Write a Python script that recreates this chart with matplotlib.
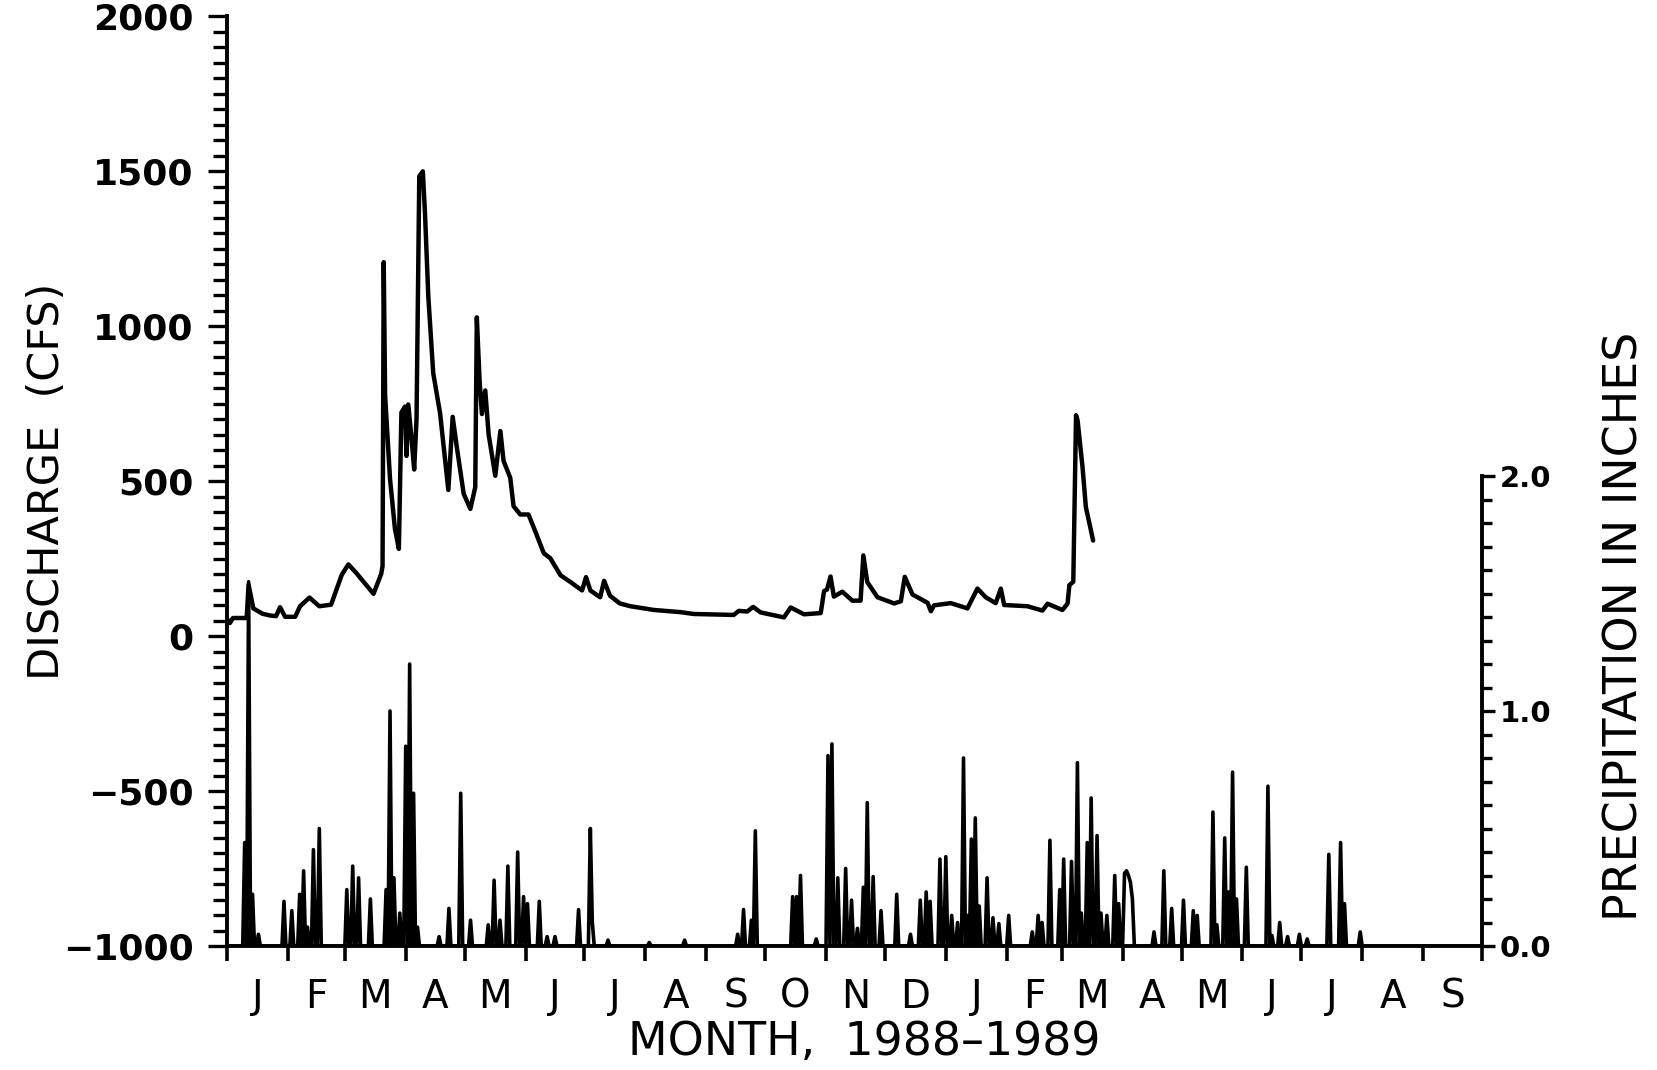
import numpy as np
import pandas as pd
import matplotlib
matplotlib.use("Agg")
import matplotlib.pyplot as plt
from matplotlib.ticker import (MultipleLocator, FixedLocator, FormatStrFormatter,
                               NullFormatter, FuncFormatter, FixedFormatter)

plt.rcParams['font.family'] = ['DejaVu Sans']

# ---------------- data ----------------
record_start = pd.Timestamp('1988-01-01')
month_starts = pd.date_range('1988-01-01', '1989-10-01', freq='MS')
month_labels = ['J', 'F', 'M', 'A', 'M', 'J', 'J', 'A', 'S', 'O', 'N', 'D',
                'J', 'F', 'M', 'A', 'M', 'J', 'J', 'A', 'S']

# discharge (cfs), day of record counted from 1 Jan 1988
discharge_day = [0, 1.5, 3, 10, 11, 13.4, 18, 22, 25, 27, 29.6, 34.7, 37.2, 42, 47, 53,
                 58.4, 61.8, 66, 74.6, 78.5, 79.2, 79.8, 80.5, 83, 85.5, 87.5, 88.8,
                 90.6, 91.4, 92.3, 94, 95.3, 96.5, 97.9, 99.7, 100.8, 102.5, 105, 108.5,
                 112.7, 114.9, 117, 120.5, 123.9, 126.4, 127.2, 128.6, 129.8, 131.5,
                 133.2, 136.6, 139.2, 140.8, 144.2, 145.9, 149.3, 153.5, 157, 161.3,
                 164.6, 169.8, 174.9, 180.8, 182.8, 185, 190, 192, 195, 200, 205.4,
                 217.3, 230.9, 237.7, 258, 260.6, 264.9, 267.9, 271.7, 283.6, 287,
                 293.8, 302.3, 304, 305.5, 307.3, 309, 313.3, 318.4, 322.6, 324, 326,
                 331.2, 339.7, 343.1, 345.1, 349, 356.7, 358.4, 360, 368.5, 377, 382.1,
                 386.3, 391.4, 394, 395.7, 407.6, 415.2, 417.8, 425.4, 428, 428.9,
                 430.9, 432.3, 433.1, 435.6, 437.3, 441]
discharge_cfs = [55, 42, 58, 58, 165, 89, 72, 66, 64, 93, 62, 62, 96, 124, 96, 101,
                 197, 231, 202, 136, 200, 225, 1206, 776, 507, 346, 281, 721,
                 740, 581, 747, 634, 537, 700, 1483, 1499, 1365, 1095, 848, 718,
                 471, 707, 610, 459, 410, 480, 1028, 824, 716, 792,
                 651, 517, 661, 565, 511, 419, 392, 392, 337, 267,
                 251, 196, 174, 147, 190, 147, 125, 178, 130, 105, 96,
                 84, 77, 71, 68, 81, 79, 94, 76, 60, 92,
                 70, 74, 145, 150, 192, 127, 143, 114, 114, 260, 174,
                 125, 105, 112, 191, 134, 107, 80, 99, 106, 89, 153,
                 125, 106, 153, 100, 96, 82, 104, 84, 105, 164,
                 175, 712, 695, 545, 416, 308]

# daily precipitation (inches) on rain days, day of record counted from 1 Jan 1988
precip_day = [9, 11, 13, 16, 29, 33, 37, 39, 41, 44, 47, 61, 64, 67, 73, 81, 83, 85,
              88, 91, 93, 95, 97, 108, 113, 119, 124, 133, 136, 139, 143, 148, 151,
              153, 159, 163, 167, 179, 185, 186, 194, 215, 233, 260, 263, 267, 269,
              288, 290, 292, 300, 306, 308, 311, 315, 318, 321, 324, 326, 329, 333,
              341, 348, 353, 356, 358, 363, 366, 369, 372, 375, 377, 379, 381, 383,
              387, 390, 393, 398, 410, 413, 415, 419, 424, 426, 430, 433, 435, 438,
              440, 443, 445, 448, 452, 454, 457, 458, 459, 460, 461, 472, 477, 481,
              487, 492, 494, 502, 504, 508, 510, 512, 514, 519, 530, 532, 536, 540,
              546, 550, 561, 567, 569, 577]
precip_in = [0.44, 1.55, 0.22, 0.05, 0.19, 0.15, 0.22, 0.32, 0.08, 0.41, 0.50, 0.24,
             0.34, 0.29, 0.20, 0.24, 1.00, 0.29, 0.14, 0.85, 1.20, 0.65, 0.08, 0.04,
             0.16, 0.65, 0.11, 0.09, 0.28, 0.11, 0.34, 0.40, 0.21, 0.18, 0.19, 0.04,
             0.04, 0.155, 0.50, 0.10, 0.025, 0.015, 0.025, 0.05, 0.155, 0.11, 0.49,
             0.21, 0.21, 0.30, 0.03, 0.81, 0.86, 0.29, 0.33, 0.195, 0.075, 0.25, 0.61,
             0.295, 0.15, 0.22, 0.05, 0.195, 0.23, 0.19, 0.37, 0.38, 0.13, 0.10, 0.80,
             0.13, 0.455, 0.545, 0.17, 0.29, 0.12, 0.095, 0.13, 0.06, 0.13, 0.10, 0.45,
             0.24, 0.37, 0.36, 0.78, 0.14, 0.44, 0.63, 0.47, 0.14, 0.13, 0.30, 0.18,
             0.31, 0.32, 0.30, 0.27, 0.20, 0.06, 0.32, 0.16, 0.195, 0.15, 0.13, 0.57,
             0.09, 0.46, 0.23, 0.74, 0.20, 0.335, 0.68, 0.045, 0.10, 0.04, 0.05, 0.03,
             0.39, 0.44, 0.18, 0.06]

# ---------------- derived positions ----------------
month_bounds = np.asarray((month_starts - record_start).days, dtype=float)
month_mids = (month_bounds[:-1] + month_bounds[1:]) / 2.0
n_days = int(month_bounds[-1]) + 1
precip_daily = np.zeros(n_days)
for d, p in zip(precip_day, precip_in):
    precip_daily[d] = max(precip_daily[d], p)

# ---------------- figure ----------------
W, H = 1658, 1070
fig = plt.figure(figsize=(W / 100, H / 100), dpi=100)
ax_left, ax_right = 227 / W, 1482 / W
ax_bottom, ax_top = 1 - 946 / H, 1 - 16 / H
ax = fig.add_axes([ax_left, ax_bottom, ax_right - ax_left, ax_top - ax_bottom])
ax.set_facecolor('none')

lw_axis = 2.8
ax.plot(discharge_day, discharge_cfs, color='black', lw=3.2,
        solid_joinstyle='round', solid_capstyle='round', zorder=3)
ax.set_xlim(month_bounds[0], month_bounds[-1])
ax.set_ylim(-1000, 2000)

for s in ['top', 'right']:
    ax.spines[s].set_visible(False)
for s in ['left', 'bottom']:
    ax.spines[s].set_linewidth(lw_axis)

ax.yaxis.set_major_locator(MultipleLocator(500))
ax.yaxis.set_minor_locator(MultipleLocator(50))
ax.yaxis.set_major_formatter(FuncFormatter(lambda v, p: f'{int(round(v))}'.replace('-', '\u2212')))
ax.tick_params(axis='y', which='major', direction='out', length=14, width=2.4,
               pad=10, labelsize=26)
ax.tick_params(axis='y', which='minor', direction='out', length=10, width=2.4)
for t in ax.get_yticklabels():
    t.set_fontweight('bold')

ax.xaxis.set_major_locator(FixedLocator(month_bounds))
ax.xaxis.set_major_formatter(NullFormatter())
ax.xaxis.set_minor_locator(FixedLocator(month_mids))
ax.xaxis.set_minor_formatter(FixedFormatter(month_labels))
ax.tick_params(axis='x', which='major', direction='out', length=11, width=2.6)
ax.tick_params(axis='x', which='minor', length=0, pad=23, labelsize=28)

ax.set_ylabel('DISCHARGE  (CFS)', fontsize=31, va='center')
ax.yaxis.set_label_coords((47 - 227) / 1255, 0.5)
ax.set_xlabel('MONTH,  1988\u20131989', fontsize=33, va='center')
ax.xaxis.set_label_coords((864 - 227) / 1255, (946 - 1042) / 930)

# precipitation on a secondary axis
tw = ax.twinx()
tw.set_facecolor('none')
tw.plot(np.arange(n_days), precip_daily, color='black', lw=2.6,
        solid_joinstyle='round', zorder=2)
precip_top = 2.0 * 930 / 470
tw.set_ylim(0, precip_top)
tw.set_xlim(month_bounds[0], month_bounds[-1])
for s in ['top', 'left', 'bottom']:
    tw.spines[s].set_visible(False)
tw.spines['right'].set_bounds(0, 2.0)
tw.spines['right'].set_linewidth(lw_axis)
tw.yaxis.set_major_locator(FixedLocator([0.0, 1.0, 2.0]))
tw.yaxis.set_minor_locator(FixedLocator(np.round(np.arange(0, 2.01, 0.1), 2)))
tw.yaxis.set_major_formatter(FormatStrFormatter('%.1f'))
tw.tick_params(axis='y', which='major', direction='out', length=9, width=2.4,
               pad=4, labelsize=21)
tw.tick_params(axis='y', which='minor', direction='out', length=7, width=2.4)
for t in tw.get_yticklabels():
    t.set_fontweight('bold')
tw.set_ylabel('PRECIPITATION IN INCHES', fontsize=33, va='center', rotation=90)
tw.yaxis.set_label_coords((1625 - 227) / 1255, (946 - 626) / 930)

fig.savefig('out.png', dpi=100, facecolor='white')
